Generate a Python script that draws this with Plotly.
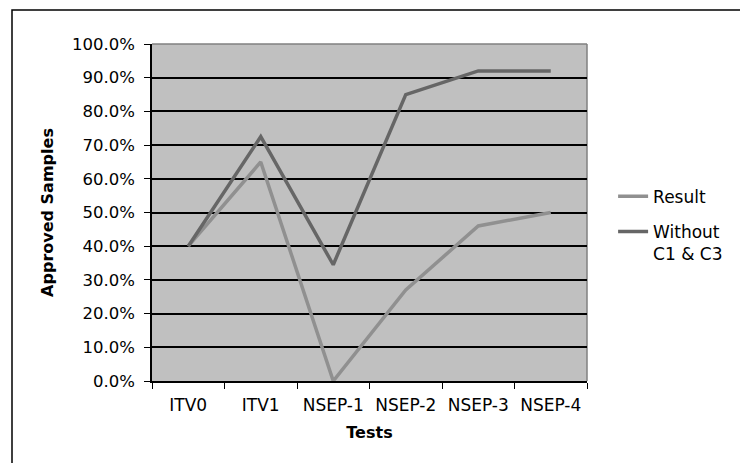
import plotly.graph_objects as go

# Approval rates per test stage
tests = ["ITV0", "ITV1", "NSEP-1", "NSEP-2", "NSEP-3", "NSEP-4"]
result = [0.40, 0.65, 0.00, 0.27, 0.46, 0.50]
without_c1_c3 = [0.40, 0.725, 0.345, 0.85, 0.92, 0.92]

y_ticks = [i / 10 for i in range(11)]
y_tick_text = [f"{v * 100:.1f}%" for v in y_ticks]

font_family = "DejaVu Sans"

fig = go.Figure()
fig.add_trace(go.Scatter(
    x=tests, y=result, name="Result", mode="lines", legendgroup="a",
    line=dict(color="#909090", width=3.5),
))
fig.add_trace(go.Scatter(
    x=tests, y=without_c1_c3, name="Without<br>C1 & C3", mode="lines", legendgroup="b",
    line=dict(color="#666666", width=3.5),
))

fig.update_layout(
    width=740, height=463,
    margin=dict(l=152, r=153, t=44, b=82),
    paper_bgcolor="white",
    plot_bgcolor="#c0c0c0",
    font=dict(family=font_family, color="black", size=16),
    showlegend=True,
    legend=dict(
        x=1.06, y=0.60, xanchor="left", yanchor="top",
        font=dict(size=17, family=font_family),
        valign="top", traceorder="grouped", tracegroupgap=10,
        bgcolor="rgba(0,0,0,0)",
    ),
    xaxis=dict(
        title=dict(text="<b>Tests</b>", font=dict(size=16), standoff=13),
        type="category",
        tickson="boundaries",
        ticks="outside", ticklen=6, tickcolor="black",
        ticklabelstandoff=8,
        showline=True, linecolor="black", linewidth=1.5,
        showgrid=False,
        tickfont=dict(size=17),
        range=[-0.5, 5.5],
    ),
    yaxis=dict(
        title=dict(text="<b>Approved Samples</b>", font=dict(size=16), standoff=14),
        range=[0, 1],
        tickvals=y_ticks, ticktext=y_tick_text,
        ticks="outside", ticklen=6, tickcolor="black",
        ticklabelstandoff=6,
        showline=True, linecolor="black", linewidth=1.5,
        showgrid=True, gridcolor="black", gridwidth=1.5,
        zeroline=False,
        tickfont=dict(size=16.5),
    ),
    shapes=[
        # grey frame on the top and right of the plot area
        dict(type="line", xref="paper", yref="paper", x0=0, x1=1, y0=1, y1=1,
             line=dict(color="#808080", width=1.5), layer="below"),
        dict(type="line", xref="paper", yref="paper", x0=1, x1=1, y0=0, y1=1,
             line=dict(color="#808080", width=1.5), layer="below"),
        # outer chart border
        dict(type="rect", xref="paper", yref="paper",
             x0=(12 - 152) / 435, x1=(745 - 152) / 435,
             y0=(381 - 470) / 337, y1=(381 - 10) / 337,
             line=dict(color="black", width=1.5), layer="below"),
    ],
)

fig.write_html("out.html")
